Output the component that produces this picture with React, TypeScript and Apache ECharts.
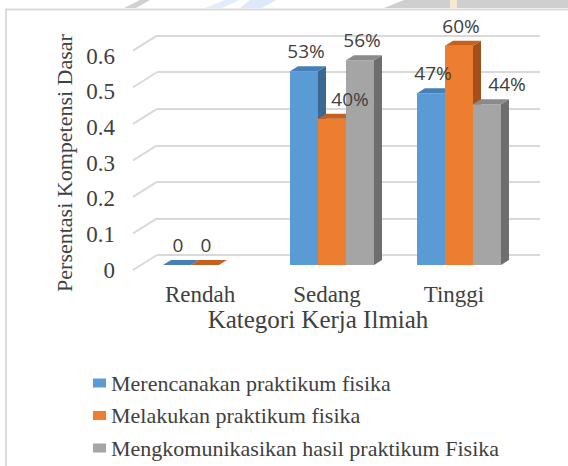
import React, { useEffect, useRef } from "react";
import * as echarts from "echarts";

const categories = ["Rendah", "Sedang", "Tinggi"];
const seriesNames = [
  "Merencanakan praktikum fisika",
  "Melakukan praktikum fisika",
  "Mengkomunikasikan hasil praktikum Fisika",
];
const merencanakan: (number | null)[] = [0, 0.53, 0.47];
const melakukan: (number | null)[] = [0, 0.4, 0.6];
const mengkomunikasikan: (number | null)[] = [null, 0.56, 0.44];
const yTicks = [0, 0.1, 0.2, 0.3, 0.4, 0.5, 0.6];

const FACE = [
  { front: "#5b9bd5", top: "#467fb7", side: "#3b6892" },
  { front: "#ed7d31", top: "#c5611e", side: "#a3501a" },
  { front: "#a5a5a5", top: "#8a8a8a", side: "#6e6e6e" },
];
// horizontal nudges of data labels (series x category), px
const LABEL_NUDGE = [
  [1, 2, 2],
  [1, 18, 2],
  [0, 2, 20],
];
const BAR_W = 28;
const DX = 8;
const DY = 5;
const SERIF = "Liberation Serif";
const SANS = "Open Sans";
const TXT = "#404040";

function fmt(v: number) {
  return v === 0 ? "0" : Math.round(v * 100) + "%";
}

function barSeries(s: number, values: (number | null)[]) {
  const data = values
    .map((v, i) => (v == null ? null : [i, v]))
    .filter((d) => d != null);
  return {
    type: "custom",
    name: seriesNames[s],
    xAxisIndex: 1,
    yAxisIndex: 1,
    itemStyle: { color: FACE[s].front },
    encode: { x: 0, y: 1 },
    data,
    renderItem: (params: any, api: any) => {
      const ci = api.value(0);
      const v = api.value(1);
      if (v == null || isNaN(v)) return null;
      const base = api.coord([ci, 0]);
      const top = api.coord([ci, v]);
      const x0 = base[0] + (s - 1.5) * BAR_W;
      const x1 = x0 + BAR_W;
      const yb = base[1];
      const yt = top[1];
      const f = FACE[s];
      const children: any[] = [
        {
          type: "polygon",
          shape: { points: [[x1, yt], [x1 + DX, yt - DY], [x1 + DX, yb - DY], [x1, yb]] },
          style: { fill: f.side },
        },
        {
          type: "rect",
          shape: { x: x0, y: yt, width: BAR_W, height: Math.max(0, yb - yt) },
          style: { fill: f.front },
        },
        {
          type: "polygon",
          shape: { points: [[x0, yt], [x0 + DX, yt - DY], [x1 + DX, yt - DY], [x1, yt]] },
          style: { fill: f.top },
        },
        {
          type: "text",
          z2: 100,
          style: {
            text: fmt(v),
            x: (x0 + x1) / 2 + LABEL_NUDGE[s][ci],
            y: yt - 20,
            align: "center",
            verticalAlign: "middle",
            fontFamily: SANS,
            fontSize: 19,
            fill: TXT,
          },
        },
      ];
      return { type: "group", children };
    },
  };
}

export default function App() {
  const ref = useRef<HTMLDivElement>(null);
  useEffect(() => {
    if (!ref.current) return;
    const chart = echarts.init(ref.current, undefined, { renderer: "svg" });
    const option: any = {
      animation: false,
      backgroundColor: "#ffffff",
      textStyle: { fontFamily: SERIF, color: TXT },
      graphic: [
        { type: "polygon", silent: true, shape: { points: [[384, 8], [404, 0], [568, 0], [568, 8]] }, style: { fill: "#cfcfcf" } },
        { type: "rect", silent: true, shape: { x: 450, y: 0, width: 7, height: 8 }, style: { fill: "#f3ead0" } },
        { type: "polygon", silent: true, shape: { points: [[124, 8], [136, 8], [150, 0], [140, 0]] }, style: { fill: "#d0d0d0" } },
        { type: "polygon", silent: true, shape: { points: [[205, 8], [225, 0], [240, 0], [222, 8]] }, style: { fill: "#e2edf9" } },
        { type: "polygon", silent: true, shape: { points: [[240, 8], [250, 0], [276, 0], [262, 8]] }, style: { fill: "#dce9f8" } },
        {
          type: "rect",
          silent: true,
          shape: { x: 6, y: 9.5, width: 620, height: 520 },
          style: { fill: "none", stroke: "#d9d9d9", lineWidth: 1.8 },
        },
      ],
      legend: seriesNames.map((n, i) => ({
        orient: "vertical",
        left: 93,
        top: 372 + i * 32.5,
        padding: 0,
        itemWidth: 13,
        itemHeight: 9,
        icon: "rect",
        data: [n],
        textStyle: { fontFamily: SERIF, fontSize: 22, color: TXT },
      })),
      grid: [
        { left: 157, right: 28, top: 35.7, bottom: 211 },
        { left: 141.5, right: 45.5, top: 45.7, bottom: 201 },
        { left: 123, right: 55, top: 56, bottom: 196 },
      ],
      xAxis: [
        { gridIndex: 0, type: "value", min: 0, max: 1, show: false },
        {
          gridIndex: 1,
          type: "category",
          data: categories,
          axisLine: { show: false },
          axisTick: { show: false },
          axisLabel: {
            margin: 18,
            fontFamily: SERIF,
            fontSize: 23,
            color: TXT,
            padding: [0, 10, 0, 0],
          },
        },
        {
          gridIndex: 2,
          type: "value",
          min: 0,
          max: 1,
          axisLine: { show: false },
          axisTick: { show: false },
          axisLabel: { show: false },
          splitLine: { show: false },
          name: "Kategori Kerja Ilmiah",
          nameLocation: "middle",
          nameGap: 37,
          nameTextStyle: { fontFamily: SERIF, fontSize: 25, color: TXT },
        },
      ],
      yAxis: [
        {
          gridIndex: 0,
          type: "value",
          min: 0,
          max: 0.6,
          interval: 0.1,
          axisLine: { show: false },
          axisTick: { show: false },
          axisLabel: { show: false },
          splitLine: { show: true, lineStyle: { color: "#d9d9d9", width: 2 } },
        },
        { gridIndex: 1, type: "value", min: 0, max: 0.6, interval: 0.1, show: false },
        {
          gridIndex: 2,
          type: "value",
          min: 0,
          max: 0.6,
          interval: 0.1,
          axisLine: { show: false },
          axisTick: { show: false },
          splitLine: { show: false },
          axisLabel: { margin: 8, fontFamily: SERIF, fontSize: 23, color: TXT },
          name: "Persentasi Kompetensi Dasar",
          nameLocation: "middle",
          nameRotate: 90,
          nameGap: 48,
          nameTextStyle: { fontFamily: SERIF, fontSize: 22, color: TXT },
        },
      ],
      series: [
        {
          type: "custom",
          silent: true,
          xAxisIndex: 0,
          yAxisIndex: 0,
          encode: { x: 0, y: 1 },
          data: yTicks.map((t) => [0, t]),
          renderItem: (params: any, api: any) => {
            const p = api.coord([0, api.value(1)]);
            return {
              type: "line",
              shape: { x1: p[0] - 24, y1: p[1] + 15, x2: p[0], y2: p[1] },
              style: { stroke: "#d9d9d9", lineWidth: 2 },
            };
          },
        },
        barSeries(0, merencanakan),
        barSeries(1, melakukan),
        barSeries(2, mengkomunikasikan),
      ],
    };
    chart.setOption(option);
    return () => chart.dispose();
  }, []);
  return (
    <div
      ref={ref}
      style={{ position: "fixed", left: 0, top: 0, width: 568, height: 466 }}
    />
  );
}
